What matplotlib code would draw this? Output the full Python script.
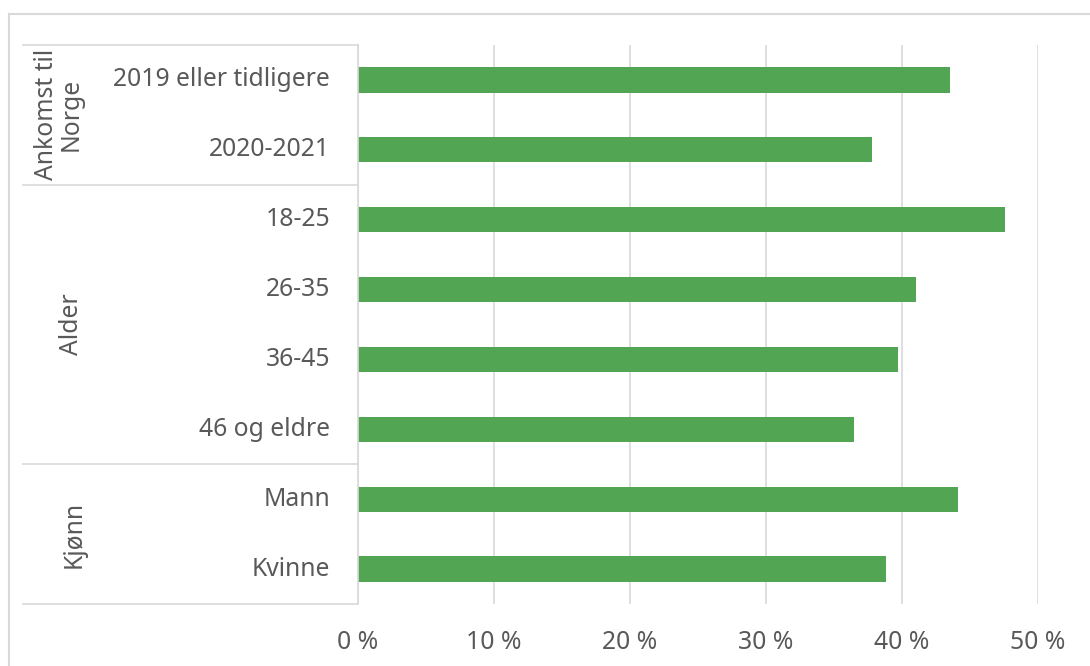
import matplotlib.pyplot as plt
from matplotlib.lines import Line2D
from matplotlib.ticker import FuncFormatter

# Data (share in percent)
categories = ["2019 eller tidligere", "2020-2021",
              "18-25", "26-35", "36-45", "46 og eldre",
              "Mann", "Kvinne"]
values = [43.5, 37.8, 47.6, 41.0, 39.7, 36.5, 44.1, 38.8]
groups = ["Ankomst til\nNorge", "Alder", "Kjønn"]
group_sizes = [2, 4, 2]
x_ticks = [0, 10, 20, 30, 40, 50]

BAR_COLOR = "#52A552"
TEXT_COLOR = "#595959"
LINE_COLOR = "#D9D9D9"
FS = 17.8

plt.rcParams["font.family"] = ["Noto Sans", "DejaVu Sans"]

W, H = 1090, 666
fig = plt.figure(figsize=(W / 100, H / 100), dpi=100)
ax = fig.add_axes([358 / W, 1 - 604 / H, (1038 - 358) / W, (604 - 45) / H])

y = list(range(len(categories)))
ax.barh(y, values, height=0.36, color=BAR_COLOR, zorder=3)

ax.set_xlim(0, 50)
ax.set_ylim(len(categories) - 0.5, -0.5)
ax.set_xticks(x_ticks)
ax.xaxis.set_major_formatter(FuncFormatter(lambda v, p: f"{v:.0f} %"))
ax.tick_params(axis="x", length=0, pad=19, labelsize=FS, labelcolor=TEXT_COLOR)
ax.set_yticks([])
ax.grid(axis="x", color=LINE_COLOR, linewidth=1.2, zorder=0)
for side in ["top", "right", "bottom"]:
    ax.spines[side].set_visible(False)
ax.spines["left"].set_color(LINE_COLOR)
ax.spines["left"].set_linewidth(1.2)
ax.spines["left"].set_zorder(4)

# category labels
lab_trans = ax.get_yaxis_transform()
for i, name in enumerate(categories):
    ax.text(-28 / 680, i, name, transform=lab_trans, ha="right", va="center",
            fontsize=FS, color=TEXT_COLOR)

# group separators and group labels
x_left = (23 - 358) / 680
start = -0.5
bounds = [start]
for n in group_sizes:
    start += n
    bounds.append(start)
for b in bounds:
    ax.add_line(Line2D([x_left, 0], [b, b], transform=lab_trans, color=LINE_COLOR,
                       linewidth=1.2, clip_on=False))
group_x = [(59 - 358) / 680, (72 - 358) / 680, (74 - 358) / 680]
for g, gx, lo, hi in zip(groups, group_x, bounds[:-1], bounds[1:]):
    ax.text(gx, (lo + hi) / 2, g, transform=lab_trans, rotation=90, ha="center",
            va="center", fontsize=FS, color=TEXT_COLOR, linespacing=1.0)

# outer chart frame (cut off at right and bottom)
fig.add_artist(Line2D([9 / W, 1], [1 - 14 / H, 1 - 14 / H], color=LINE_COLOR, linewidth=1.5))
fig.add_artist(Line2D([9 / W, 9 / W], [0, 1 - 14 / H], color=LINE_COLOR, linewidth=1.5))

fig.savefig("out.png", dpi=100, facecolor="white")
